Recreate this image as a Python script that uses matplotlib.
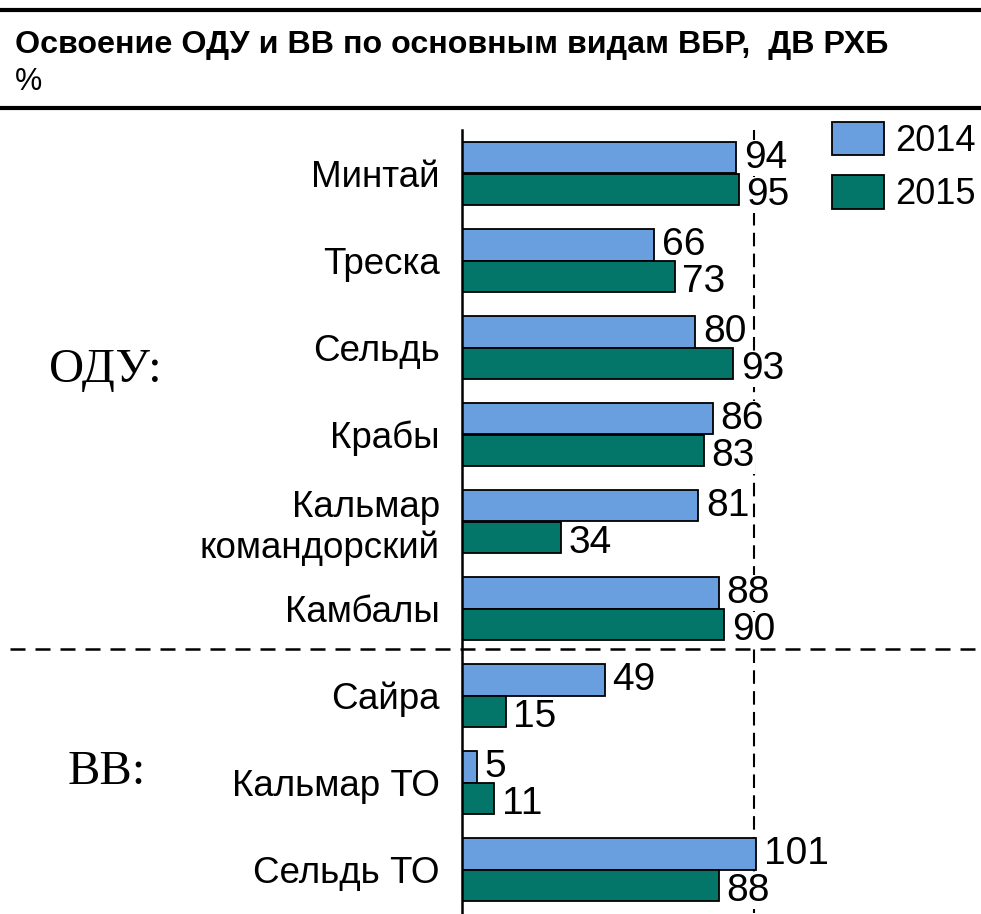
import matplotlib.pyplot as plt
import matplotlib.transforms as mtransforms
from matplotlib.lines import Line2D
import numpy as np

plt.rcParams['font.family'] = ['Liberation Sans', 'DejaVu Sans']

species = ['Минтай', 'Треска', 'Сельдь', 'Крабы', 'Кальмар\nкомандорский',
           'Камбалы', 'Сайра', 'Кальмар ТО', 'Сельдь ТО']
v2014 = [94, 66, 80, 86, 81, 88, 49, 5, 101]
v2015 = [95, 73, 93, 83, 34, 90, 15, 11, 88]

c2014 = '#6A9FDF'
c2015 = '#037669'

W, H = 981, 914
fig = plt.figure(figsize=(W / 100, H / 100), dpi=100)
ax = fig.add_axes([462 / W, 1 - 913 / H, 1 - 462 / W, (913 - 130) / H])

y = np.arange(len(species))
bh = 0.36
ax.barh(y - bh / 2, v2014, height=bh, color=c2014, edgecolor='black', linewidth=1.3,
        label='2014', zorder=2)
ax.barh(y + bh / 2, v2015, height=bh, color=c2015, edgecolor='black', linewidth=1.3,
        label='2015', zorder=2)

# white box behind the numbers hides the dashed 100% line (bars stay on top)
box = dict(facecolor='white', edgecolor='none', pad=0)
for i in range(len(species)):
    ax.annotate(str(v2014[i]), (v2014[i], y[i] - bh / 2), xytext=(5.5, 0),
                textcoords='offset points', va='center', ha='left', fontsize=28,
                bbox=box, zorder=1.5)
    ax.annotate(str(v2015[i]), (v2015[i], y[i] + bh / 2), xytext=(5.5, -4),
                textcoords='offset points', va='center', ha='left', fontsize=28,
                bbox=box, zorder=1.5)

ax.set_xlim(0, (W - 462) / 2.915)
ax.set_ylim(len(species) - 0.5, -0.5)
ax.set_yticks(y)
ax.set_yticklabels(species, fontsize=26.5)
for lab in ax.get_yticklabels():
    lab.set_linespacing(1.2)
ax.tick_params(axis='y', length=0, pad=16)
ax.set_xticks([])
for s in ['top', 'right', 'bottom']:
    ax.spines[s].set_visible(False)
ax.spines['left'].set_linewidth(1.8)

# 100% reference line
ax.axvline(100, color='black', linewidth=1.5, linestyle=(0, (6.5, 3.5)), zorder=1)

# separator between ОДУ and ВВ
tr = mtransforms.blended_transform_factory(fig.transFigure, ax.transData)
ax.plot([10 / W, 1], [5.46, 5.46], transform=tr, color='black', linewidth=1.8,
        linestyle=(0, (6, 4)), clip_on=False, zorder=1)

# frame lines of the header
fig.add_artist(Line2D([0, 1], [1 - 10 / H, 1 - 10 / H], color='black', linewidth=3))
fig.add_artist(Line2D([0, 1], [1 - 108 / H, 1 - 108 / H], color='black', linewidth=3))

fig.text(15 / W, 1 - 45 / H, 'Освоение ОДУ и ВВ по основным видам ВБР,  ДВ РХБ',
         fontsize=23.2, fontweight='bold', va='center', ha='left')
fig.text(15 / W, 1 - 82 / H, '%', fontsize=22, va='center', ha='left')

fig.text(105 / W, 1 - 370 / H, 'ОДУ:', family='Liberation Serif', fontsize=35,
         va='center', ha='center')
fig.text(107 / W, 1 - 772 / H, 'ВВ:', family='Liberation Serif', fontsize=35,
         va='center', ha='center')

fig.legend(loc='upper left', bbox_to_anchor=(832 / W, 1 - 122 / H), frameon=False,
           fontsize=26, handlelength=1.45, handleheight=1.05, handletextpad=0.3,
           labelspacing=0.45, borderpad=0, borderaxespad=0)

fig.savefig('out.png', dpi=100)
